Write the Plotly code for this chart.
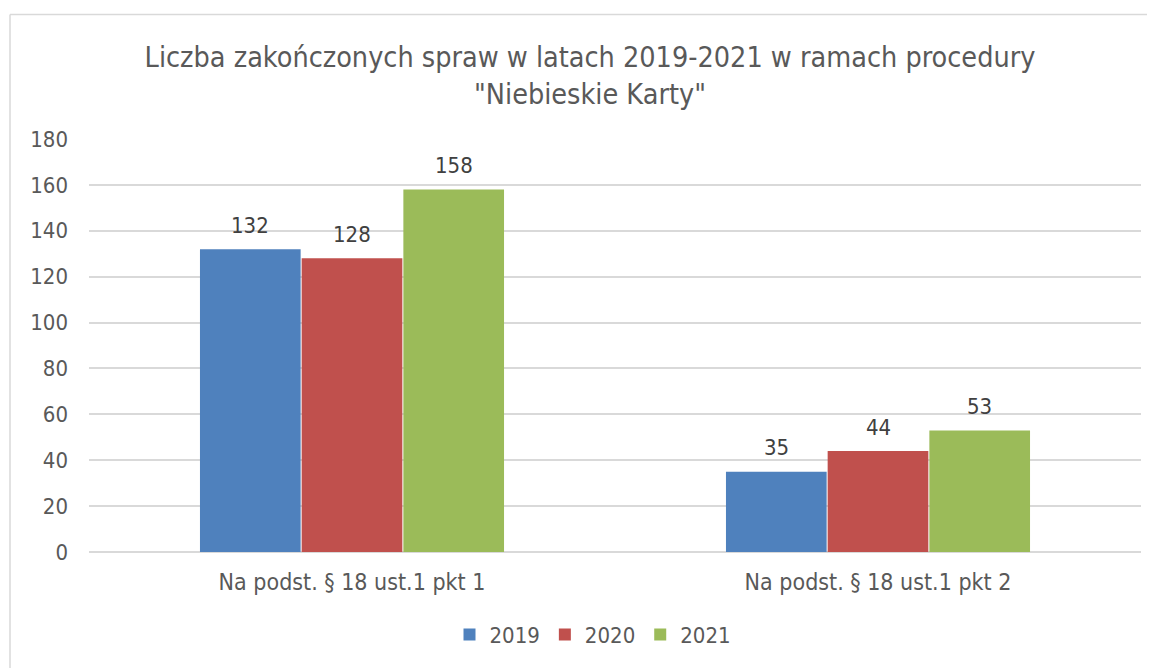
import plotly.graph_objects as go

categories = ["Na podst. § 18 ust.1 pkt 1", "Na podst. § 18 ust.1 pkt 2"]
series_names = ["2019", "2020", "2021"]
values_2019 = [132, 35]
values_2020 = [128, 44]
values_2021 = [158, 53]
colors = ["#4F81BD", "#C0504D", "#9BBB59"]
title_text = "Liczba zakończonych spraw w latach 2019-2021 w ramach procedury<br>\"Niebieskie Karty\""

FONT = "DejaVu Sans Condensed, DejaVu Sans, sans-serif"

# page has an 8px body margin, so the figure is drawn 8px in from the top-left
W, H = 1147, 660
L, R, T, B = 81, 14, 131, 114
pw, ph = W - L - R, H - T - B
BARGAP = 0.42
bar_px = pw / len(categories) * (1 - BARGAP) / len(series_names)

fig = go.Figure()
all_vals = [values_2019, values_2020, values_2021]
for i, (name, vals, col) in enumerate(zip(series_names, all_vals, colors)):
    fig.add_trace(go.Bar(
        x=categories, y=vals, name=name,
        marker=dict(color=col, line=dict(width=0)),
        cliponaxis=False,
    ))
    for c, v in zip(categories, vals):
        fig.add_annotation(x=c, y=v, text=str(v), showarrow=False,
                           xshift=(i - 1) * bar_px, yshift=24, yanchor="middle",
                           font=dict(family=FONT, size=22, color="#404040"))

fig.update_layout(
    width=W, height=H,
    margin=dict(l=L, r=R, t=T, b=B),
    paper_bgcolor="white", plot_bgcolor="white",
    barmode="group", bargap=BARGAP, bargroupgap=0.01,
    font=dict(family=FONT, color="#595959"),
    title=dict(text=title_text, x=582 / W, xref="container", xanchor="center",
               y=1 - 59 / H, yanchor="middle",
               font=dict(family=FONT, size=28.5, color="#595959")),
    legend=dict(orientation="h", x=(585 - L) / pw, xanchor="center", y=(546 - 629) / ph, yanchor="middle",
                font=dict(family=FONT, size=22, color="#595959"), itemwidth=30, traceorder="normal"),
    yaxis=dict(range=[0, 180], dtick=20, showgrid=True, gridcolor="#D9D9D9", gridwidth=1.5,
               zeroline=True, zerolinecolor="#D9D9D9", zerolinewidth=1.5, showline=False,
               tickfont=dict(family=FONT, size=22, color="#595959"), ticklabelstandoff=20),
    xaxis=dict(showline=False, showgrid=False, ticks="", ticklabelstandoff=14,
               tickfont=dict(family=FONT, size=23, color="#595959")),
    shapes=[
        dict(type="line", xref="paper", yref="paper", x0=(2 - L) / pw, x1=(W - L + 5) / pw,
             y0=1 + (T - 6) / ph, y1=1 + (T - 6) / ph, line=dict(color="#D9D9D9", width=1.5)),
        dict(type="line", xref="paper", yref="paper", x0=(2 - L) / pw, x1=(2 - L) / pw,
             y0=1 + (T - 6) / ph, y1=-(B + 5) / ph, line=dict(color="#D9D9D9", width=1.5)),
    ],
)

fig.write_html("out.html")
